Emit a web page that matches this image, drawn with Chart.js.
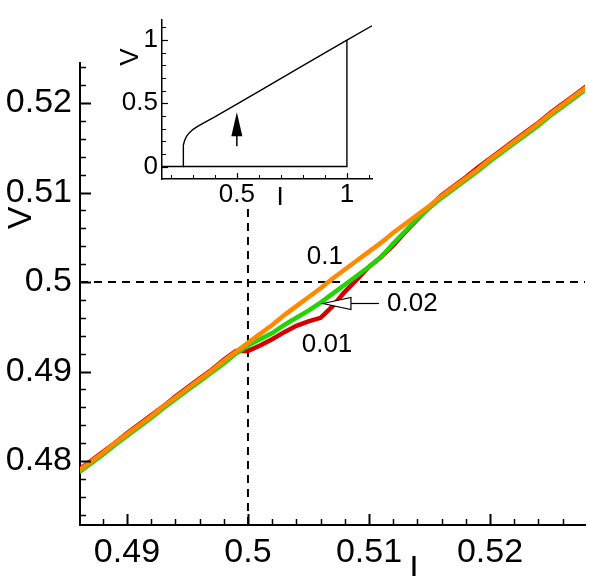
<!DOCTYPE html>
<html>
<head>
<meta charset="utf-8">
<script src="https://cdn.jsdelivr.net/npm/chart.js@4.4.1/dist/chart.umd.min.js"></script>
<style>
  html, body { margin: 0; padding: 0; background: #fff; }
  #wrap { position: relative; width: 589px; height: 576px; overflow: hidden; }
  #mainChart { position: absolute; left: 0; top: 0; }
  #insetChart { position: absolute; left: 100px; top: 0; }
</style>
</head>
<body>
<div id="wrap">
  <canvas id="mainChart" width="589" height="576"></canvas>
  <canvas id="insetChart" width="290" height="215"></canvas>
</div>
<script>
const FONT = "'Liberation Sans', Arial, sans-serif";

// Main plot data: bias current I and voltage V for three sweep rates
const current = [
  0.486, 0.487, 0.488, 0.489, 0.490, 0.491, 0.492, 0.493, 0.494, 0.495,
  0.496, 0.497, 0.498, 0.499, 0.500, 0.501, 0.502, 0.503, 0.504, 0.505,
  0.506, 0.507, 0.508, 0.509, 0.510, 0.511, 0.512, 0.513, 0.514, 0.515,
  0.516, 0.517, 0.518, 0.519, 0.520, 0.521, 0.522, 0.523, 0.524, 0.525,
  0.526, 0.527, 0.528
];
const voltageRate01 = [
  0.4789, 0.4799, 0.4809, 0.4820, 0.4830, 0.4840, 0.4850, 0.4861, 0.4871, 0.4881,
  0.4891, 0.4901, 0.4912, 0.4922, 0.4932, 0.4942, 0.4952, 0.4963, 0.4973, 0.4983,
  0.4993, 0.5004, 0.5014, 0.5024, 0.5034, 0.5044, 0.5055, 0.5065, 0.5075, 0.5085,
  0.5096, 0.5106, 0.5116, 0.5126, 0.5137, 0.5147, 0.5157, 0.5167, 0.5177, 0.5188,
  0.5198, 0.5208, 0.5218
];
const voltageRate002 = [
  0.4787, 0.4797, 0.4807, 0.4818, 0.4828, 0.4838, 0.4848, 0.4859, 0.4869, 0.4879,
  0.4889, 0.4899, 0.4909, 0.4920, 0.4929, 0.4936, 0.4943, 0.4952, 0.4960, 0.4968,
  0.4977, 0.4987, 0.4997, 0.5007, 0.5017, 0.5028, 0.5043, 0.5057, 0.5071, 0.5083,
  0.5094, 0.5104, 0.5114, 0.5124, 0.5135, 0.5145, 0.5155, 0.5165, 0.5175, 0.5186,
  0.5196, 0.5206, 0.5216
];
const voltageRate001 = [
  0.4790, 0.4800, 0.4810, 0.4820, 0.4831, 0.4841, 0.4851, 0.4861, 0.4872, 0.4882,
  0.4892, 0.4902, 0.4913, 0.4923, 0.4923, 0.4929, 0.4936, 0.4944, 0.4951, 0.4956,
  0.4960, 0.4973, 0.4989, 0.5003, 0.5017, 0.5028, 0.5041, 0.5056, 0.5070, 0.5084,
  0.5097, 0.5107, 0.5117, 0.5128, 0.5138, 0.5148, 0.5158, 0.5168, 0.5178, 0.5189,
  0.5199, 0.5209, 0.5219
];

const xTicks = [0.49, 0.5, 0.51, 0.52];
const yTicks = [0.48, 0.49, 0.5, 0.51, 0.52];
const refI = 0.5;
const refV = 0.5;
const dashTopV = 0.5085;

// Rate labels: [text, I, V]
const rateLabels = [['0.1', 0.50636, 0.50279], ['0.01', 0.50653, 0.49296], ['0.02', 0.51149, 0.49754]];
const arrowTip = [0.5062, 0.4976];
const arrowHeadBase = 0.50851;
const arrowTail = 0.51083;

// Inset data: full I-V curve
const insetCurrent = [0.256, 0.256, 0.258, 0.263, 0.272, 0.285, 0.300, 0.320, 0.350, 0.400, 0.500, 0.600, 0.800, 1.000, 1.114];
const insetVoltage = [0.000, 0.130, 0.170, 0.208, 0.240, 0.268, 0.292, 0.316, 0.346, 0.393, 0.493, 0.595, 0.798, 1.000, 1.113];
const insetReturnCurrent = [0.16, 1.0, 1.0];
const insetReturnVoltage = [0, 0, 1.0];
const insetXTicks = [0.5, 1];
const insetYTicks = [0, 0.5, 1];
const insetArrow = [0.5, 0.16, 0.43];

const pts = (xs, ys) => xs.map((x, i) => ({ x, y: ys[i] }));
const fmt = v => String(+v.toFixed(3));

function drawInnerTicks(chart, o) {
  const { ctx, chartArea: a, scales: { x, y } } = chart;
  ctx.save();
  ctx.strokeStyle = '#000';
  const isMajor = (v, step) => Math.abs(v / step - Math.round(v / step)) < 1e-6;
  for (let k = Math.ceil(x.min / o.minorX - 1e-6); k * o.minorX <= x.max + 1e-9; k++) {
    const v = k * o.minorX;
    const major = isMajor(v, o.majorX);
    const px = Math.round(x.getPixelForValue(v)) + 0.5;
    ctx.lineWidth = major ? o.majorW : o.minorW;
    ctx.beginPath();
    ctx.moveTo(px, a.bottom);
    ctx.lineTo(px, a.bottom - (major ? o.majorLen : o.minorLen));
    ctx.stroke();
  }
  for (let k = Math.ceil(y.min / o.minorY - 1e-6); k * o.minorY <= y.max + 1e-9; k++) {
    const v = k * o.minorY;
    const major = isMajor(v, o.majorY);
    const py = Math.round(y.getPixelForValue(v)) + 0.5;
    ctx.lineWidth = major ? o.majorW : o.minorW;
    ctx.beginPath();
    ctx.moveTo(a.left, py);
    ctx.lineTo(a.left + (major ? o.majorLen : o.minorLen), py);
    ctx.stroke();
  }
  ctx.restore();
}

const mainDecor = {
  id: 'mainDecor',
  afterDraw(chart) {
    drawInnerTicks(chart, { minorX: 0.002, majorX: 0.01, minorY: 0.002, majorY: 0.01, majorLen: 11, minorLen: 6, majorW: 2, minorW: 1.5 });
    const { ctx, scales: { x, y } } = chart;
    ctx.save();
    ctx.fillStyle = '#000';
    ctx.font = '26px ' + FONT;
    ctx.textBaseline = 'middle';
    rateLabels.forEach(([t, i, v], n) => {
      ctx.textAlign = n === 2 ? 'left' : 'center';
      ctx.fillText(t, x.getPixelForValue(i), y.getPixelForValue(v));
    });
    // hollow arrow pointing at the 0.02 curve
    const ty = y.getPixelForValue(arrowTip[1]);
    const tx = x.getPixelForValue(arrowTip[0]);
    const bx = x.getPixelForValue(arrowHeadBase);
    const ex = x.getPixelForValue(arrowTail);
    ctx.strokeStyle = '#000';
    ctx.lineWidth = 1.2;
    ctx.beginPath();
    ctx.moveTo(bx, ty);
    ctx.lineTo(ex, ty);
    ctx.stroke();
    ctx.beginPath();
    ctx.moveTo(tx, ty);
    ctx.lineTo(bx, ty - 6);
    ctx.lineTo(bx, ty + 6);
    ctx.closePath();
    ctx.fillStyle = '#fff';
    ctx.fill();
    ctx.stroke();
    // axis titles
    ctx.fillStyle = '#000';
    ctx.font = '34px ' + FONT;
    ctx.textAlign = 'center';
    ctx.textBaseline = 'alphabetic';
    ctx.fillText('I', 414, 579);
    ctx.translate(31, 218);
    ctx.rotate(-Math.PI / 2);
    ctx.fillText('V', 0, 0);
    ctx.restore();
  }
};

const insetDecor = {
  id: 'insetDecor',
  afterDraw(chart) {
    drawInnerTicks(chart, { minorX: 0.1, majorX: 0.5, minorY: 0.1, majorY: 0.5, majorLen: 6, minorLen: 4, majorW: 1.2, minorW: 1 });
    const { ctx, scales: { x, y } } = chart;
    ctx.save();
    const ax = x.getPixelForValue(insetArrow[0]);
    const y0 = y.getPixelForValue(insetArrow[1]);
    const y1 = y.getPixelForValue(insetArrow[2]);
    ctx.strokeStyle = '#000';
    ctx.fillStyle = '#000';
    ctx.lineWidth = 1.5;
    ctx.beginPath();
    ctx.moveTo(ax, y0);
    ctx.lineTo(ax, y1 + 14);
    ctx.stroke();
    ctx.beginPath();
    ctx.moveTo(ax, y1);
    ctx.lineTo(ax - 5.5, y1 + 24);
    ctx.lineTo(ax + 5.5, y1 + 24);
    ctx.closePath();
    ctx.fill();
    ctx.font = '26px ' + FONT;
    ctx.textAlign = 'center';
    ctx.textBaseline = 'alphabetic';
    ctx.fillText('I', 180, 205);
    ctx.translate(38, 57);
    ctx.rotate(-Math.PI / 2);
    ctx.fillText('V', 0, 0);
    ctx.restore();
  }
};

new Chart(document.getElementById('mainChart'), {
  type: 'line',
  data: {
    datasets: [
      { label: '0.1', data: pts(current, voltageRate01), borderColor: '#ff8a00', borderWidth: 4.5 },
      { label: '0.02', data: pts(current, voltageRate002), borderColor: '#22d400', borderWidth: 4.5 },
      { label: '0.01', data: pts(current, voltageRate001), borderColor: '#d40000', borderWidth: 4.5 },
      { label: 'V=0.5', data: [{ x: 0.48612, y: refV }, { x: 0.52785, y: refV }], borderColor: '#000', borderWidth: 2, borderDash: [8, 6] },
      { label: 'I=0.5', data: [{ x: refI, y: 0.47285 }, { x: refI, y: dashTopV }], borderColor: '#000', borderWidth: 2, borderDash: [8, 6] }
    ]
  },
  options: {
    responsive: false,
    animation: false,
    devicePixelRatio: 1,
    elements: { point: { radius: 0 }, line: { tension: 0, fill: false } },
    layout: { padding: { top: 63, right: 4, left: 0, bottom: 0 } },
    plugins: { legend: { display: false }, tooltip: { enabled: false } },
    scales: {
      x: {
        type: 'linear', min: 0.48612, max: 0.52785,
        afterBuildTicks: s => { s.ticks = xTicks.map(v => ({ value: v })); },
        afterFit: s => { s.height = 51; },
        grid: { display: false, drawTicks: false },
        border: { display: true, color: '#000', width: 2 },
        ticks: { callback: fmt, color: '#000', padding: 7, maxRotation: 0, autoSkip: false, font: { family: FONT, size: 34 } }
      },
      y: {
        type: 'linear', min: 0.47285, max: 0.52447,
        afterBuildTicks: s => { s.ticks = yTicks.map(v => ({ value: v })); },
        afterFit: s => { s.width = 80; },
        grid: { display: false, drawTicks: false },
        border: { display: true, color: '#000', width: 2 },
        ticks: { callback: fmt, color: '#000', padding: 8, autoSkip: false, font: { family: FONT, size: 34 } }
      }
    }
  },
  plugins: [mainDecor]
});

new Chart(document.getElementById('insetChart'), {
  type: 'line',
  data: {
    datasets: [
      { label: 'IV', data: pts(insetCurrent, insetVoltage), borderColor: '#000', borderWidth: 1.4 },
      { label: 'return', data: pts(insetReturnCurrent, insetReturnVoltage), borderColor: '#000', borderWidth: 1.4 }
    ]
  },
  options: {
    responsive: false,
    animation: false,
    devicePixelRatio: 1,
    elements: { point: { radius: 0 }, line: { tension: 0, fill: false } },
    layout: { padding: { top: 0, right: 18, left: 0, bottom: 0 } },
    plugins: { legend: { display: false }, tooltip: { enabled: false } },
    scales: {
      x: {
        type: 'linear', min: 0.16, max: 1.114,
        afterBuildTicks: s => { s.ticks = insetXTicks.map(v => ({ value: v })); },
        afterFit: s => { s.height = 36; },
        grid: { display: false, drawTicks: false },
        border: { display: true, color: '#000', width: 1.5 },
        ticks: { callback: fmt, color: '#000', padding: 0, maxRotation: 0, autoSkip: false, font: { family: FONT, size: 26 } }
      },
      y: {
        type: 'linear', min: -0.0986, max: 1.162,
        afterBuildTicks: s => { s.ticks = insetYTicks.map(v => ({ value: v })); },
        afterFit: s => { s.width = 62; },
        grid: { display: false, drawTicks: false },
        border: { display: true, color: '#000', width: 1.5 },
        ticks: { callback: fmt, color: '#000', padding: 4, autoSkip: false, font: { family: FONT, size: 26 } }
      }
    }
  },
  plugins: [insetDecor]
});
</script>
</body>
</html>
